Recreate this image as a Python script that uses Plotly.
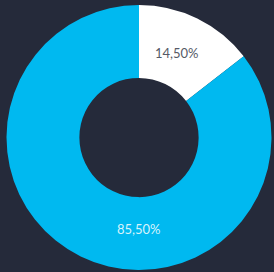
import plotly.graph_objects as go

labels = ["Part A", "Part B"]
values = [14.5, 85.5]
colors = ["#ffffff", "#00b9f0"]
value_labels = ["14,50%", "85,50%"]
label_colors = ["#555a66", "#d9f3fc"]
label_pos = [(0.643, 0.819), (0.5, 0.155)]

fig = go.Figure(go.Pie(
    labels=labels,
    values=values,
    hole=0.45,
    sort=False,
    direction="clockwise",
    rotation=0,
    marker=dict(colors=colors, line=dict(width=0)),
    textinfo="none",
    showlegend=False,
    hoverinfo="label+percent",
))

for txt, col, (px, py) in zip(value_labels, label_colors, label_pos):
    fig.add_annotation(
        x=px, y=py, xref="paper", yref="paper",
        xanchor="center", yanchor="middle",
        text=txt, showarrow=False,
        font=dict(family="Lato", size=13, color=col),
    )

fig.update_layout(
    width=274, height=272,
    margin=dict(l=6, r=2, t=5, b=2),
    paper_bgcolor="#252a3a",
    plot_bgcolor="#252a3a",
    separators=",.",
)

fig.write_html(
    "out.html",
    config={"displayModeBar": False},
    post_script="document.body.style.margin='0';document.body.style.padding='0';"
                "document.body.style.overflow='hidden';"
                "document.body.style.background='#252a3a';",
)
